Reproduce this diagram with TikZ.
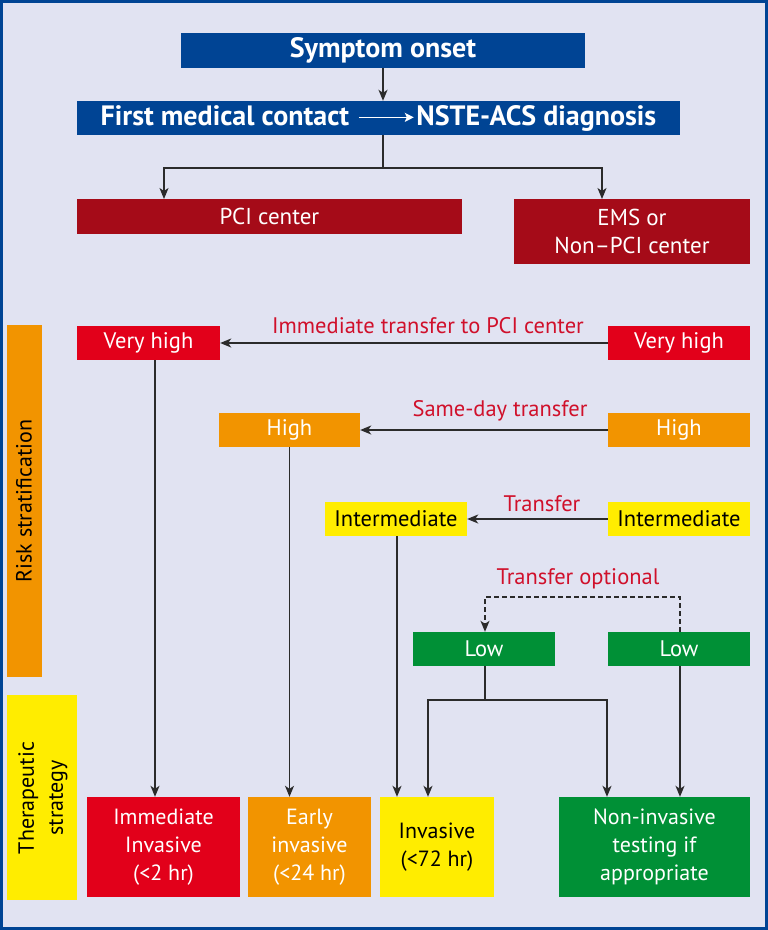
\documentclass[tikz,border=0pt]{standalone}
\usepackage{fontspec}
\setmainfont{PT Sans}
\usetikzlibrary{arrows.meta}
\definecolor{bg}{HTML}{E1E3F2}
\definecolor{dblue}{HTML}{004494}
\definecolor{dred}{HTML}{A50B18}
\definecolor{bred}{HTML}{E2001A}
\definecolor{bor}{HTML}{F29400}
\definecolor{byel}{HTML}{FFED00}
\definecolor{bgreen}{HTML}{009036}
\definecolor{labred}{HTML}{D0102B}
\definecolor{lncol}{HTML}{2B2B2B}
\begin{document}
\begin{tikzpicture}[x=1pt,y=-1pt,
  box/.style={rectangle, inner sep=0pt, text=white, align=center, font=\fontsize{23}{28}\selectfont},
  rbox/.style={box, font=\fontsize{22.5}{28}\selectfont, minimum height=34pt},
  tbox/.style={box, font=\fontsize{22}{28}\selectfont, minimum height=100pt},
  bbox/.style={box, font=\bfseries\fontsize{28}{32}\selectfont},
  lab/.style={text=labred, inner sep=0pt, font=\fontsize{22.5}{26}\selectfont},
  side/.style={text=black, inner sep=0pt, align=center, rotate=90, font=\fontsize{22}{29}\selectfont},
  ln/.style={draw=lncol, line width=1.4pt},
  arr/.style={ln, -{Stealth[length=11pt,width=9pt,inset=3pt]}}
]
\fill[bg] (0,0) rectangle (768,930);
\draw[dblue, line width=3pt] (1.5,1.5) rectangle (766.5,928.5);
\useasboundingbox (0,0) rectangle (768,930);

% top
\node[bbox, fill=dblue, minimum width=404pt, minimum height=35pt] (sym) at (383,50.5) {Symptom onset};
\node[bbox, fill=dblue, minimum width=603pt, minimum height=34pt] (fmc) at (378.5,118)
  {First medical contact\hspace{9pt}\tikz[baseline=-0.55ex]\draw[white,line width=1.3pt,-{Stealth[length=9pt,width=9pt,inset=2pt]}] (0pt,0pt) -- (55pt,0pt);\hspace{2pt}NSTE-ACS diagnosis};
\node[box, fill=dred, minimum width=385pt, minimum height=35pt] (pci) at (269.5,216.5) {PCI center};
\node[box, fill=dred, minimum width=236pt, minimum height=65pt] (ems) at (632,231.5) {EMS or\\Non–PCI center};

% risk boxes
\node[rbox, fill=bred, minimum width=143pt] (vhL) at (148.5,343) {Very high};
\node[rbox, fill=bred, minimum width=142pt] (vhR) at (679,343) {Very high};
\node[rbox, fill=bor, minimum width=141pt] (hL) at (289.5,430) {High};
\node[rbox, fill=bor, minimum width=142pt] (hR) at (679,430) {High};
\node[rbox, fill=byel, text=black, minimum width=142pt] (iL) at (396,519) {Intermediate};
\node[rbox, fill=byel, text=black, minimum width=142pt] (iR) at (679,519) {Intermediate};
\node[rbox, fill=bgreen, minimum width=142pt] (lL) at (484,649) {Low};
\node[rbox, fill=bgreen, minimum width=142pt] (lR) at (679,649) {Low};

% bottom boxes
\node[tbox, fill=bred, minimum width=153pt] (b1) at (163.5,847) {Immediate\\Invasive\\(<2 hr)};
\node[tbox, fill=bor, minimum width=123pt] (b2) at (309.5,847) {Early\\invasive\\(<24 hr)};
\node[tbox, fill=byel, text=black, minimum width=114pt] (b3) at (437,847) {Invasive\\(<72 hr)};
\node[tbox, fill=bgreen, minimum width=191pt] (b4) at (654.5,847) {Non-invasive\\testing if\\appropriate};

% side bars
\node[fill=bor, minimum width=35pt, minimum height=352pt, inner sep=0pt] (s1) at (24.5,501) {};
\node[side] (s1t) at (24,501) {Risk stratification};
\node[fill=byel, minimum width=70pt, minimum height=205pt, inner sep=0pt] (s2) at (42,797.5) {};
\node[side] (s2t) at (43,798) {Therapeutic\\strategy};

% labels
\node[lab] (t1) at (428,326) {Immediate transfer to PCI center};
\node[lab] (t2) at (500,411) {Same-day transfer};
\node[lab] (t3) at (542,504) {Transfer};
\node[lab] (t4) at (578,579) {Transfer optional};

% connectors top
\coordinate (j1) at (383,168);
\coordinate (pciT) at (164,199);
\coordinate (emsT) at (602,199);
\draw[arr] (sym.south) -- (fmc.north -| sym.south);
\draw[ln] (fmc.south -| j1) -- (j1);
\draw[arr] (j1) -| (pciT);
\draw[arr] (j1) -| (emsT);

% transfers
\draw[arr] (vhR.west) -- (vhL.east);
\draw[arr] (hR.west) -- (hL.east);
\draw[arr] (iR.west) -- (iL.east);

% verticals
\coordinate (v1) at (155,0);
\coordinate (v3) at (397,0);
\coordinate (v4) at (485,0);
\coordinate (v5) at (428,0);
\coordinate (v6) at (607,0);
\coordinate (v7) at (680,0);
\coordinate (j2) at (485,700);
\coordinate (dd) at (0,597);
\draw[arr] (vhL.south -| v1) -- (b1.north -| v1);
\draw[arr] (hL.south) -- (hL.south |- b2.north);
\draw[arr] (iL.south -| v3) -- (b3.north -| v3);
\draw[ln] (lL.south -| v4) -- (j2);
\draw[arr] (j2) -| (b3.north -| v5);
\draw[arr] (j2) -| (b4.north -| v6);
\draw[arr] (lR.south -| v7) -- (b4.north -| v7);
\draw[arr, dash pattern=on 5pt off 3pt] (lR.north -| v7) |- (dd -| v4) -- (lL.north -| v4);
\end{tikzpicture}
\end{document}
